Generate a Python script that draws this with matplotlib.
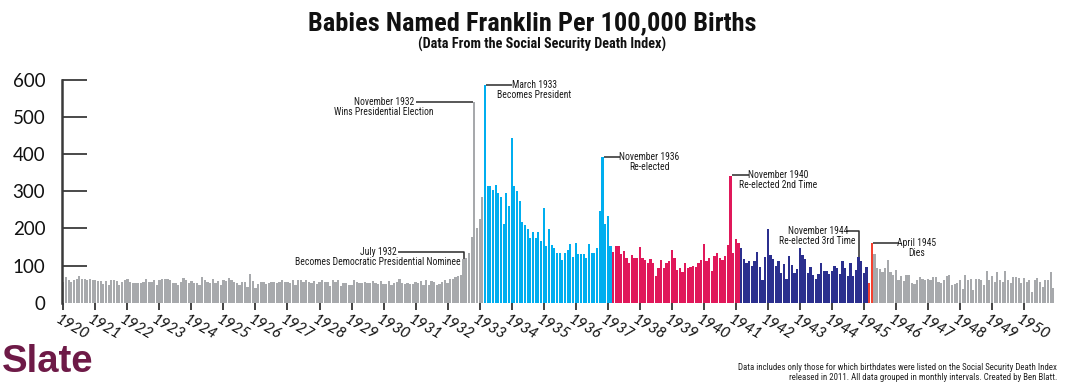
import numpy as np
import matplotlib
matplotlib.use("Agg")
import matplotlib.pyplot as plt
import matplotlib.transforms as mtransforms
from matplotlib import font_manager

# Franklin babies per 100,000 births, one list per year (Jan..Dec)
years = list(range(1920, 1951))
monthly = {
    1920: [55, 68, 62, 57, 61, 64, 73, 65, 64, 60, 63, 60],
    1921: [60, 58, 59, 51, 58, 48, 62, 60, 58, 47, 55, 60],
    1922: [64, 55, 52, 53, 53, 54, 57, 64, 55, 57, 62, 47],
    1923: [62, 63, 65, 63, 61, 53, 53, 48, 57, 66, 62, 53],
    1924: [58, 52, 54, 47, 68, 60, 57, 52, 65, 53, 58, 48],
    1925: [62, 58, 67, 60, 56, 53, 48, 55, 55, 42, 77, 59],
    1926: [40, 50, 55, 55, 49, 54, 57, 56, 53, 57, 60, 55],
    1927: [55, 53, 60, 48, 62, 60, 55, 62, 56, 54, 58, 51],
    1928: [56, 60, 57, 56, 46, 62, 55, 60, 46, 54, 54, 48],
    1929: [48, 61, 55, 53, 52, 55, 53, 54, 58, 52, 50, 58],
    1930: [50, 49, 58, 47, 54, 56, 64, 54, 50, 53, 50, 51],
    1931: [55, 52, 59, 48, 62, 48, 58, 56, 48, 50, 56, 61],
    1932: [54, 63, 64, 70, 73, 74, 118, 120, 135, 176, 541, 202],
    1933: [224, 283, 585, 314, 314, 303, 316, 294, 285, 211, 294, 260],
    1934: [444, 314, 300, 273, 218, 209, 197, 175, 189, 175, 191, 166],
    1935: [254, 153, 197, 155, 146, 133, 133, 115, 134, 143, 158, 124],
    1936: [160, 130, 130, 130, 119, 159, 135, 135, 148, 246, 392, 211],
    1937: [234, 153, 137, 152, 152, 130, 138, 119, 108, 128, 119, 119],
    1938: [150, 119, 115, 108, 117, 108, 73, 92, 115, 92, 108, 112],
    1939: [142, 119, 88, 92, 82, 108, 92, 97, 99, 97, 106, 114],
    1940: [159, 112, 119, 85, 126, 134, 121, 115, 125, 154, 342, 134],
    1941: [171, 161, 147, 118, 106, 111, 99, 111, 136, 95, 61, 122],
    1942: [198, 127, 118, 99, 112, 79, 104, 63, 126, 101, 79, 90],
    1943: [147, 128, 118, 79, 97, 74, 63, 77, 108, 86, 84, 77],
    1944: [86, 99, 92, 78, 111, 94, 72, 106, 73, 88, 122, 113],
    1945: [79, 97, 52, 161, 131, 92, 90, 83, 92, 115, 83, 74],
    1946: [88, 61, 72, 59, 74, 74, 52, 50, 61, 70, 65, 61],
    1947: [65, 61, 68, 68, 56, 54, 61, 72, 74, 47, 50, 52],
    1948: [61, 36, 74, 62, 65, 35, 64, 63, 62, 48, 86, 62],
    1949: [72, 56, 83, 62, 55, 86, 62, 54, 70, 68, 67, 52],
    1950: [66, 56, 61, 28, 62, 66, 56, 42, 62, 60, 83, 40],
}

# colour periods: (first month, last month, colour)
periods = [
    ((1933, 3), (1937, 2), "#00aeef"),   # first term
    ((1937, 3), (1941, 2), "#e0185a"),   # second term
    ((1941, 3), (1945, 2), "#2b2f8e"),   # third term
    ((1945, 3), (1945, 4), "#f4402f"),   # fourth term / death
]
base_color = "#a7a9ac"

# annotations: (year, month, line1, line2)
events = [
    (1932, 7, "July 1932", "Becomes Democratic Presidential Nominee"),
    (1932, 11, "November 1932", "Wins Presidential Election"),
    (1933, 3, "March 1933", "Becomes President"),
    (1936, 11, "November 1936", "Re-elected"),
    (1940, 11, "November 1940", "Re-elected 2nd Time"),
    (1944, 11, "November 1944", "Re-elected 3rd Time"),
    (1945, 4, "April 1945", "Dies"),
]


# look for a condensed face among the installed fonts
def find_condensed(bold):
    prefer = ["Roboto Condensed", "Open Sans Condensed", "Noto Sans", "DejaVu Sans",
              "Liberation Sans Narrow", "Open Sans", "Roboto"]
    hits = []
    for f in font_manager.fontManager.ttflist:
        st = str(f.stretch).lower()
        narrow_face = "condensed" in st or "narrow" in f.name.lower() or "condensed" in f.name.lower() \
            or (st.isdigit() and int(st) < 500)
        if not narrow_face or f.style != "normal":
            continue
        w = f.weight if isinstance(f.weight, int) else {"bold": 700, "normal": 400}.get(f.weight, 400)
        if bold != (w >= 600):
            continue
        rank = prefer.index(f.name) if f.name in prefer else len(prefer)
        hits.append((rank, abs(w - (700 if bold else 400)), f.fname))
    if hits:
        hits.sort()
        return font_manager.FontProperties(fname=hits[0][2])
    return font_manager.FontProperties(family="DejaVu Sans", weight="bold" if bold else "normal")


cond = find_condensed(False)
cond_bold = find_condensed(True)
names = {f.name for f in font_manager.fontManager.ttflist}
plain = "Lato" if "Lato" in names else "DejaVu Sans"

values = np.array([v for y in years for v in monthly[y]])
idx = np.arange(len(values))


def month_index(y, m):
    return (y - years[0]) * 12 + (m - 1)


colors = [base_color] * len(values)
for start, end, c in periods:
    for i in range(month_index(*start), month_index(*end) + 1):
        colors[i] = c

fig = plt.figure(figsize=(10.65, 3.87), dpi=100)
W, H = 1065, 387
ax = fig.add_axes([62 / W, (H - 302.7) / H, 992.7 / W, 223.1 / H])

ax.bar(idx, values, width=0.84, color=colors, linewidth=0, zorder=2)
ax.set_xlim(-0.5, len(values) - 0.5)
ax.set_ylim(0, 600)

for s in ["top", "right", "bottom"]:
    ax.spines[s].set_visible(False)
ax.spines["left"].set_color("#3a3a3a")
ax.spines["left"].set_linewidth(1.8)

ax.set_yticks(range(0, 601, 100))
ax.tick_params(axis="y", direction="in", length=18, width=1.3, color="#3a3a3a",
               pad=12, labelsize=13.5, labelcolor="#111111")
for lab in ax.get_yticklabels():
    lab.set_fontfamily(plain)
ax.yaxis.get_major_ticks()[0].tick1line.set_visible(False)

ax.set_xticks([month_index(y, 1) for y in years])
ax.set_xticklabels([str(y) for y in years])
ax.tick_params(axis="x", direction="out", length=5, width=1.2, color="#222222", pad=2)
shift = mtransforms.ScaledTranslation(-3 / 100, 0, fig.dpi_scale_trans)
for lab in ax.get_xticklabels():
    lab.set_rotation(-30)
    lab.set_rotation_mode("anchor")
    lab.set_ha("left")
    lab.set_va("top")
    lab.set_fontsize(11)
    lab.set_fontstyle("italic")
    lab.set_fontfamily(plain)
    lab.set_color("#111111")
    lab.set_transform(lab.get_transform() + shift)

# annotation layout: text centre x (months), line-1 y, line start x, line end x, drop to bar?
layout = {
    (1932, 7): (117.9, 137, 125.4, None, True),
    (1932, 11): (120.2, 541, 132.2, -0.4, False),
    (1933, 3): (176.4, 585, 0.45, 168.1, False),
    (1936, 11): (219.5, 393, 0.45, 208.6, False),
    (1940, 11): (267.8, 343, 0.45, 256.9, False),
    (1944, 11): (282.7, 192, 293.3, None, True),
    (1945, 4): (319.9, 161, 0.45, 313.3, False),
}
line_kw = dict(color="#2a2a2a", lw=1.1, zorder=3, clip_on=False, solid_capstyle="butt")
gap = 27
for y, m, t1, t2 in events:
    i = month_index(y, m)
    v = values[i]
    tx, ly, x0, x1, drop = layout[(y, m)]
    if drop:
        ax.plot([x0, i, i], [ly, ly, v], **line_kw)
    elif x1 is not None and x1 < 0:
        ax.plot([x0, i + x1], [ly, ly], **line_kw)
    else:
        ax.plot([i + x0, x1], [ly, ly], **line_kw)
    ax.text(tx, ly, t1, ha="center", va="center", fontproperties=cond, fontsize=6.9, color="#1a1a1a")
    ax.text(tx, ly - gap, t2, ha="center", va="center", fontproperties=cond, fontsize=6.9, color="#1a1a1a")

fig.text(532 / W, 1 - 23 / H, "Babies Named Franklin Per 100,000 Births", ha="center", va="center",
         fontproperties=cond_bold, fontsize=19, color="#111111")
fig.text(542 / W, 1 - 44 / H, "(Data From the Social Security Death Index)", ha="center", va="center",
         fontproperties=cond_bold, fontsize=10.3, color="#111111")

fig.text(2 / W, 1 - 362 / H, "Slate", ha="left", va="center", fontsize=27.5, fontweight="bold",
         family="Liberation Sans", color="#6e1a47")
fig.text(1057 / W, 1 - 367 / H,
         "Data includes only those for which birthdates were listed on the Social Security Death Index",
         ha="right", va="center", fontproperties=cond, fontsize=6.4, color="#222222")
fig.text(1057 / W, 1 - 377 / H,
         "released in 2011. All data grouped in monthly intervals. Created by Ben Blatt.",
         ha="right", va="center", fontproperties=cond, fontsize=6.4, color="#222222")

fig.savefig("out.png", dpi=100)
